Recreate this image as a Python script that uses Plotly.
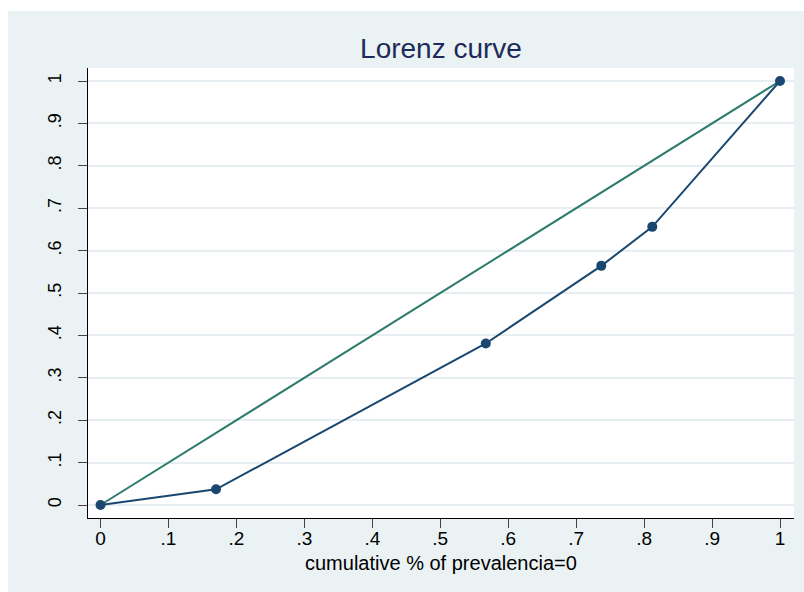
import plotly.graph_objects as go

# Data
cum_pop = [0.0, 0.170, 0.567, 0.737, 0.812, 1.0]
lorenz = [0.0, 0.037, 0.381, 0.564, 0.656, 1.0]
equality_x = [0.0, 1.0]
equality_y = [0.0, 1.0]
tick_vals = [0, 0.1, 0.2, 0.3, 0.4, 0.5, 0.6, 0.7, 0.8, 0.9, 1.0]
tick_text = ["0", ".1", ".2", ".3", ".4", ".5", ".6", ".7", ".8", ".9", "1"]

W, H = 804, 592
L, R, T, B = 88, 10, 68, 74
pw, ph = W - L - R, H - T - B

panel = "#eaf2f3"
navy = "#1a476f"
green = "#2e7b6e"

fig = go.Figure()
fig.add_trace(go.Scatter(x=equality_x, y=equality_y, mode="lines",
                         line=dict(color=green, width=2), showlegend=False,
                         hoverinfo="skip"))
fig.add_trace(go.Scatter(x=cum_pop, y=lorenz, mode="lines+markers",
                         line=dict(color=navy, width=2),
                         marker=dict(color=navy, size=10),
                         showlegend=False))

def px_to_paper_x(px):
    return (px - L) / pw

def py_to_paper_y(py):
    return (H - B - py) / ph

shapes = [
    dict(type="rect", xref="paper", yref="paper",
         x0=px_to_paper_x(0), x1=px_to_paper_x(8),
         y0=py_to_paper_y(H), y1=py_to_paper_y(0),
         fillcolor="white", line=dict(width=0), layer="below"),
    dict(type="rect", xref="paper", yref="paper",
         x0=px_to_paper_x(0), x1=px_to_paper_x(W),
         y0=py_to_paper_y(11), y1=py_to_paper_y(0),
         fillcolor="white", line=dict(width=0), layer="below"),
]

fig.update_layout(
    width=W, height=H,
    margin=dict(l=L, r=R, t=T, b=B, pad=0),
    paper_bgcolor=panel,
    plot_bgcolor="white",
    font=dict(family="Liberation Sans, Arial, sans-serif", color="black"),
    title=dict(text="Lorenz curve", x=(L + pw / 2) / W, xanchor="center",
               y=1 - 48.5 / H, yanchor="middle", yref="container",
               font=dict(size=28, color="#1c2b5a")),
    shapes=shapes,
    annotations=[dict(text="cumulative % of prevalencia=0", xref="paper", yref="paper",
                      x=0.5, y=py_to_paper_y(563), xanchor="center", yanchor="middle",
                      showarrow=False, font=dict(size=20, color="black"))],
    xaxis=dict(range=[-12.5 / 679.5, 1 + 14 / 679.5], tickvals=tick_vals, ticktext=tick_text,
               showgrid=False, zeroline=False, showline=True, linecolor="black", linewidth=1,
               ticks="outside", ticklen=9, tickcolor="#444", tickwidth=1,
               ticklabelstandoff=-6,
               tickfont=dict(size=19, color="black")),
    yaxis=dict(range=[-13 / 424, 1 + 13 / 424], tickvals=tick_vals, ticktext=tick_text,
               showgrid=True, gridcolor="#e6eef1", gridwidth=1.5, zeroline=False,
               showline=True, linecolor="black", linewidth=1,
               ticks="outside", ticklen=9, tickcolor="#444", tickwidth=1,
               ticklabelstandoff=10,
               tickangle=-90, tickfont=dict(size=18, color="black")),
)

fig.write_html("out.html")
